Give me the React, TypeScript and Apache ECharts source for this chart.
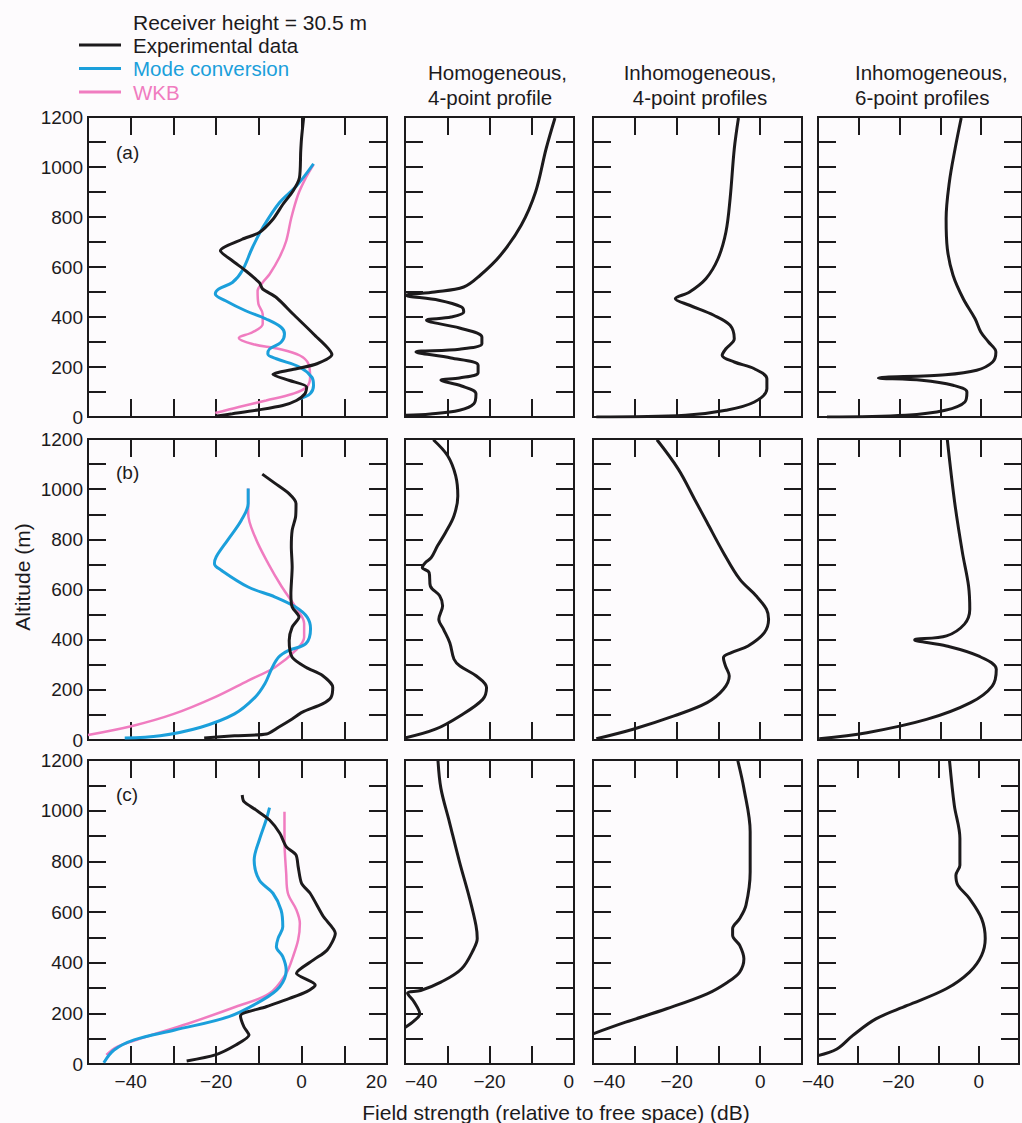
import React, { useEffect, useRef } from "react";
import * as echarts from "echarts";

// ---------- Data: [field strength (dB), altitude (m)] ----------
// Column 1: comparison panels (a), (b), (c)
const expA = [[0.5,1200],[0,1116],[-0.2,1063],[-0.5,957],[-2,904],[-4.4,850],[-6.7,791],[-9.9,738],[-13.9,711],[-19,665],[-16.2,625],[-13.1,585],[-9.9,538],[-9.1,512],[-5.9,478],[-2,412],[2.8,332],[7.1,250],[3.6,213],[-1.2,193],[-6.7,170],[-2.8,146],[1.2,120],[0.8,93],[-1.2,66],[-4.4,46],[-9.9,29],[-16.2,13],[-20.2,3]];
const modeA = [[2.8,1013],[-1.2,924],[-5.2,857],[-9.1,757],[-11.5,678],[-13.9,585],[-16.2,538],[-19.4,512],[-20.2,492],[-17.8,465],[-13.1,425],[-8.3,392],[-4.8,359],[-4,332],[-4.8,299],[-7.5,272],[-7.9,252],[-5.9,233],[-0.4,199],[2.4,159],[2.8,126],[2,93],[-0.4,73]];
const wkbA = [[2.8,1010],[1,957],[-0.8,890],[-2.4,797],[-3.6,704],[-5.2,638],[-7.5,571],[-9.1,538],[-10.3,505],[-10.1,452],[-9.1,412],[-9.1,372],[-11.5,339],[-14.7,316],[-11.5,292],[-5.2,272],[-0.4,246],[1.6,213],[2,159],[1.2,120],[-2,93],[-8.3,66],[-14.7,40],[-20.2,16]];

const expB = [[-9.2,1060],[-6.2,1023],[-3,983],[-1.3,943],[-1.4,890],[-2.2,836],[-2.4,770],[-2.2,690],[-2.5,583],[-2.2,530],[-0.6,490],[-2.2,450],[-2.9,397],[-2.2,330],[1,290],[4.9,257],[7.3,210],[6.9,170],[4.9,144],[0.2,111],[-2.2,84],[-5.4,51],[-8.2,24],[-15.7,17],[-22.8,8]];
const modeB = [[-12.5,1003],[-12.5,943],[-14.1,876],[-17.3,797],[-20,730],[-20.4,703],[-18.8,677],[-12.5,610],[-6.2,570],[-1.4,530],[1.3,490],[2.1,444],[1,384],[-3,357],[-5.4,330],[-7,284],[-8.6,224],[-10.9,170],[-15.7,104],[-23.6,51],[-33.1,17],[-41.4,8]];
const wkbB = [[-12.5,1003],[-12.5,903],[-10.9,810],[-7.8,703],[-4.6,610],[-1.4,530],[0.6,464],[0.6,410],[-1.4,357],[-6.2,290],[-12.5,237],[-20.4,170],[-29.9,104],[-39.4,57],[-50,20]];

const expC = [[-13.9,1062],[-13.5,1036],[-10.7,1003],[-7.5,963],[-5.1,911],[-3.6,858],[-1.3,825],[-0.8,779],[0,713],[2,674],[5.1,582],[7.9,516],[6,450],[2.8,411],[-1.2,358],[3.2,312],[1.2,286],[-2.8,259],[-8.3,226],[-14.3,190],[-13.5,147],[-12.3,114],[-15.4,75],[-20.2,36],[-26.9,12]];
const modeC = [[-7.5,1012],[-8.3,963],[-9.9,884],[-11.1,805],[-9.9,726],[-6.7,674],[-4.8,608],[-4.4,542],[-5.5,496],[-5.9,463],[-4.4,424],[-3.6,371],[-5.1,305],[-9.1,253],[-17,187],[-29.7,134],[-39.2,95],[-43.9,55],[-46.3,5]];
const wkbC = [[-4,996],[-4,884],[-3.6,753],[-3.2,674],[-1.2,608],[-0.4,555],[-0.8,490],[-2,424],[-3.6,358],[-7.5,279],[-15.4,226],[-26.5,160],[-37.6,101],[-43.2,68],[-45.7,36]];

// Column 2: Homogeneous, 4-point profile
const homA = [[-4.5,1196],[-6.6,1073],[-9.1,900],[-12.5,767],[-17.4,647],[-22.2,567],[-26.1,520],[-33,500],[-39.8,487],[-32,467],[-26.6,440],[-26.1,420],[-29.1,400],[-34.9,387],[-27.1,356],[-21.8,320],[-21.8,293],[-27.1,271],[-37.4,260],[-29.1,236],[-22.7,207],[-22.7,177],[-27.1,156],[-31.5,147],[-26.6,124],[-23.2,93],[-23.7,53],[-27.1,27],[-34,12],[-39.8,7]];
const homB = [[-33.3,1197],[-29.9,1133],[-28,1053],[-27.5,973],[-28.4,894],[-30.4,827],[-32.3,774],[-33.8,727],[-35.2,707],[-35.9,688],[-34.3,668],[-34,614],[-31.8,575],[-31.1,535],[-32,481],[-30.9,442],[-29.4,388],[-28.4,322],[-27,295],[-23.1,255],[-20.7,209],[-21.6,162],[-27,96],[-32.8,43],[-39.8,9]];
const homC = [[-32.2,1200],[-31.5,1088],[-29.5,956],[-27.1,798],[-24.7,653],[-23.2,547],[-22.9,495],[-23.7,455],[-26.6,376],[-31.5,323],[-36.3,290],[-39.4,280],[-37.8,244],[-36.5,197],[-37.8,171],[-40,144]];

// Column 3: Inhomogeneous, 4-point profiles
const inh4A = [[-5.2,1196],[-6.2,1073],[-7.2,873],[-8.2,740],[-10.1,633],[-13,553],[-16.9,500],[-20.3,473],[-16.9,447],[-11.1,407],[-7.2,367],[-6.2,313],[-8.2,273],[-9.1,247],[-6.2,220],[-1.4,193],[1.6,153],[1.6,113],[-1.4,60],[-8.2,27],[-17.9,7],[-39.2,0]];
const inh4B = [[-24.7,1197],[-19.6,1080],[-15.7,960],[-12.7,867],[-8.8,747],[-4.9,641],[-1,575],[1.5,521],[2,481],[1,428],[-2.9,375],[-6.9,348],[-8.8,328],[-8.3,295],[-7.4,255],[-8.8,202],[-12.7,149],[-20.6,96],[-30.4,43],[-39.2,5]];
const inh4C = [[-5.4,1200],[-3.9,1088],[-2.4,917],[-2.4,758],[-3.4,627],[-4.9,574],[-6.6,534],[-6.6,508],[-4.9,468],[-3.9,415],[-4.9,363],[-7.8,323],[-12.7,277],[-22.4,218],[-32.2,165],[-40,119]];

// Column 4: Inhomogeneous, 6-point profiles
const inh6A = [[-4.9,1196],[-6.4,1073],[-7.8,940],[-8.6,793],[-8.3,673],[-6.9,567],[-4.4,473],[-1.5,393],[-0.1,340],[1.8,300],[3.6,260],[2.8,220],[-1.1,187],[-8.8,169],[-25.2,156],[-14.6,147],[-6.9,127],[-3.5,100],[-4,60],[-8.8,27],[-18.5,7],[-37.8,0]];
const inh6B = [[-8.3,1197],[-6.5,947],[-4.6,747],[-3.1,614],[-2.8,521],[-4.1,462],[-8.5,415],[-16.3,399],[-8.5,375],[-0.7,335],[3.7,282],[2.7,215],[-2.6,149],[-13.4,82],[-28,29],[-39.7,5]];
const inh6C = [[-7.3,1200],[-6.1,1022],[-4.7,890],[-4.7,785],[-5.7,745],[-5.2,706],[-2.3,653],[0.7,574],[1.6,495],[0.7,429],[-2.3,363],[-8.1,297],[-17.8,231],[-25.6,178],[-31.4,112],[-35.3,59],[-40,33]];

// Tick labels and texts
const altitudeLabels = [0, 200, 400, 600, 800, 1000, 1200];
const col1XLabels = [-40, -20, 0, 20];
const otherXLabels = [-40, -20, 0];
const columnTitles = [
  ["Homogeneous,", "4-point profile"],
  ["Inhomogeneous,", "4-point profiles"],
  ["Inhomogeneous,", "6-point profiles"],
];
const rowLetters = ["(a)", "(b)", "(c)"];
const legendNames = ["Experimental data", "Mode conversion", "WKB"];
const receiverNote = "Receiver height = 30.5 m";
const xTitle = "Field strength (relative to free space) (dB)";
const yTitle = "Altitude (m)";

// ---------- Layout / style ----------
const INK = "#1c1a1c";
const BLUE = "#1b9fdb";
const PINK = "#f07cc0";
const BG = "#fdfbfd";
const FONT = "'Liberation Sans', Arial, sans-serif";

const COLS = [
  { left: 88, width: 299, min: -50, max: 20, labels: col1XLabels, alignMin: "center", alignMax: "right" },
  { left: 405, width: 169, min: -40, max: 0, labels: otherXLabels, alignMin: "left", alignMax: "right" },
  { left: 593, width: 209, min: -40, max: 10, labels: otherXLabels, alignMin: "left", alignMax: "center" },
  { left: 818, width: 211, min: -40, max: 10, labels: otherXLabels, alignMin: "center", alignMax: "center" },
];
const ROWS = [
  { top: 117, height: 300 },
  { top: 439, height: 301 },
  { top: 760, height: 304 },
];

const fmtDb = (v: number) => (v < 0 ? "\u2212" + Math.abs(v) : String(v));

function buildOption() {
  const grids: any[] = [];
  const xAxes: any[] = [];
  const yAxes: any[] = [];
  const series: any[] = [];
  const panelData = [
    [[wkbA, modeA, expA], [homA], [inh4A], [inh6A]],
    [[wkbB, modeB, expB], [homB], [inh4B], [inh6B]],
    [[wkbC, modeC, expC], [homC], [inh4C], [inh6C]],
  ];
  const tick = { show: true, inside: true, length: 18, lineStyle: { color: INK, width: 2 } };
  ROWS.forEach((row, r) => {
    COLS.forEach((col, c) => {
      const g = grids.length;
      grids.push({
        left: col.left, top: row.top, width: col.width, height: row.height,
        show: true, borderColor: INK, borderWidth: 2, backgroundColor: "transparent",
      });
      const labelsList = col.labels;
      ["bottom", "top"].forEach((pos) => {
        xAxes.push({
          gridIndex: g, type: "value", position: pos, min: col.min, max: col.max, interval: 10,
          axisLine: { show: false, onZero: false }, splitLine: { show: false }, axisTick: tick,
          axisLabel: {
            show: pos === "bottom" && r === 2,
            fontSize: 19, fontFamily: FONT, color: INK, margin: 8,
            alignMinLabel: col.alignMin, alignMaxLabel: col.alignMax,
            showMinLabel: true, showMaxLabel: true,
            formatter: (v: number) => (labelsList.includes(Math.round(v)) ? fmtDb(Math.round(v)) : ""),
          },
        });
      });
      ["left", "right"].forEach((pos) => {
        yAxes.push({
          gridIndex: g, type: "value", position: pos, min: 0, max: 1200, interval: 100,
          axisLine: { show: false, onZero: false }, splitLine: { show: false }, axisTick: tick,
          axisLabel: {
            show: pos === "left" && c === 0,
            fontSize: 19, fontFamily: FONT, color: INK, margin: 5,
            showMinLabel: true, showMaxLabel: true,
            formatter: (v: number) => (altitudeLabels.includes(Math.round(v)) ? String(Math.round(v)) : ""),
          },
        });
      });
      const sets = panelData[r][c];
      sets.forEach((data, i) => {
        let color = INK, width = 3;
        if (c === 0) {
          if (i === 0) { color = PINK; width = 2.5; }
          else if (i === 1) { color = BLUE; width = 3; }
        }
        series.push({
          type: "line", name: c === 0 ? legendNames[2 - i] : "profile",
          xAxisIndex: 2 * g, yAxisIndex: 2 * g, data,
          symbol: "none", showSymbol: false, smooth: c === 0 && i === 2 ? 0.25 : 0.35,
          lineStyle: { color, width }, clip: true, silent: true,
        });
      });
    });
  });

  const graphic: any[] = [];
  const txt = (x: number, y: number, text: string, opts: any = {}) => ({
    type: "text", x, y, silent: true,
    style: {
      text, fill: opts.fill || INK, font: `${opts.size || 21}px ${FONT}`,
      textAlign: opts.align || "left", textVerticalAlign: "middle",
    },
    rotation: opts.rotation || 0,
  });
  // legend
  graphic.push(txt(133, 22, receiverNote));
  const legendColors = [INK, BLUE, PINK];
  legendNames.forEach((name, i) => {
    const y = 45 + i * 23.5;
    graphic.push({ type: "line", silent: true, shape: { x1: 79, y1: y, x2: 121, y2: y }, style: { stroke: legendColors[i], lineWidth: 3 } });
    graphic.push(txt(133, y, name, { fill: i === 0 ? INK : legendColors[i], size: 20.5 }));
  });
  // column titles
  const titleX = [[428, "left"], [700, "center"], [855, "left"]];
  columnTitles.forEach((lines, i) => {
    graphic.push(txt(titleX[i][0] as number, 72, lines[0], { align: titleX[i][1], size: 20.5 }));
    graphic.push(txt(titleX[i][0] as number, 97, lines[1], { align: titleX[i][1], size: 20.5 }));
  });
  // row letters
  const letterY = [152, 472, 794];
  rowLetters.forEach((l, i) => graphic.push(txt(116, letterY[i], l, { size: 19 })));
  // axis titles
  graphic.push(txt(556, 1112, xTitle, { align: "center" }));
  graphic.push(txt(22, 577, yTitle, { align: "center", rotation: Math.PI / 2 }));

  return {
    animation: false,
    backgroundColor: BG,
    grid: grids,
    xAxis: xAxes,
    yAxis: yAxes,
    series,
    graphic,
  };
}

export default function App() {
  const ref = useRef<HTMLDivElement>(null);
  useEffect(() => {
    if (!ref.current) return;
    const chart = echarts.init(ref.current, null, { renderer: "svg" });
    chart.setOption(buildOption() as any);
    return () => chart.dispose();
  }, []);
  return (
    <div
      ref={ref}
      style={{ position: "absolute", left: 0, top: 0, width: 1022, height: 1123, background: BG }}
    />
  );
}
